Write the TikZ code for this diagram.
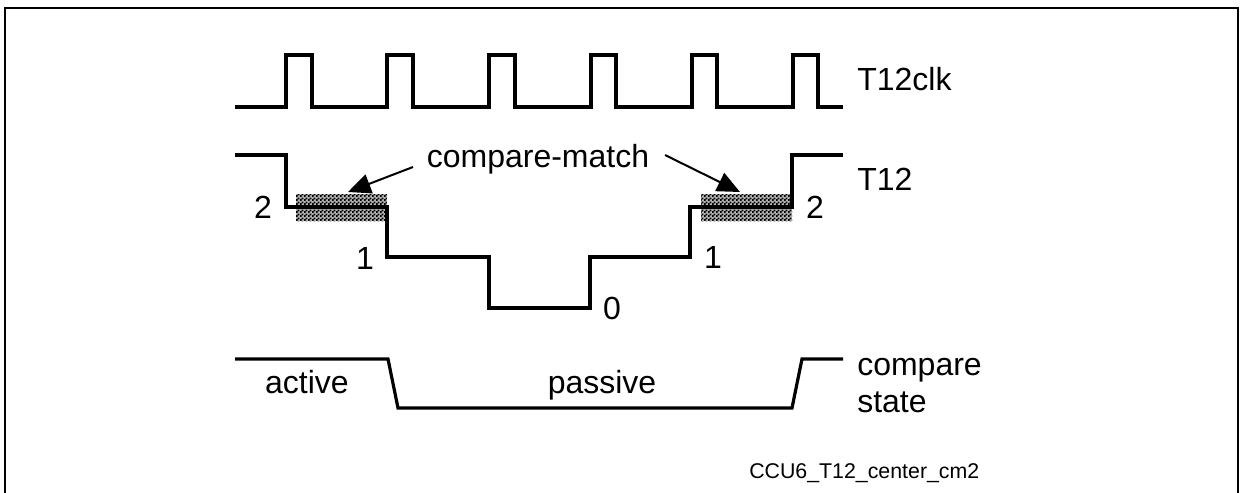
\documentclass[tikz,border=0pt]{standalone}
\usepackage{fontspec}
\setmainfont{Liberation Sans}
\usetikzlibrary{arrows.meta,patterns}
\pgfdeclarepatternformonly{checker}{\pgfqpoint{0pt}{0pt}}{\pgfqpoint{3pt}{3pt}}{\pgfqpoint{3pt}{3pt}}{%
  \pgfpathrectangle{\pgfqpoint{0pt}{0pt}}{\pgfqpoint{1.6pt}{1.6pt}}%
  \pgfpathrectangle{\pgfqpoint{1.5pt}{1.5pt}}{\pgfqpoint{1.6pt}{1.6pt}}%
  \pgfusepath{fill}}
\begin{document}
\begin{tikzpicture}[x=0.75pt,y=-0.75pt,
  wave/.style={line width=2.4pt, line join=miter},
  frameline/.style={line width=1.5pt},
  lbl/.style={font=\fontsize{24}{28}\selectfont, inner sep=0pt},
  small/.style={font=\fontsize{16}{19}\selectfont, inner sep=0pt},
  hatchbg/.style={fill=black!30},
  hatch/.style={pattern=checker, pattern color=black},
  ptr/.style={line width=1.5pt, -{Triangle[length=17pt,width=15pt]}}]
\useasboundingbox (0,0) rectangle (1240,493);
\fill[white] (0,0) rectangle (1240,493);
% frame
\draw[frameline] (5,500) -- (5,8) -- (1238,8) -- (1238,500);
% T12clk
\draw[wave] (235,107) -- (286,107) -- (286,55) -- (312,55) -- (312,107)
  -- (387,107) -- (387,55) -- (413,55) -- (413,107)
  -- (489,107) -- (489,55) -- (515,55) -- (515,107)
  -- (591,107) -- (591,55) -- (616,55) -- (616,107)
  -- (692,107) -- (692,55) -- (717,55) -- (717,107)
  -- (793,107) -- (793,55) -- (818,55) -- (818,107) -- (843,107);
\node[lbl, anchor=base west] (clk) at (857,90) {T12clk};
% hatch areas
\path[hatchbg] (296,194) rectangle (387,221);
\path[hatchbg] (701,194) rectangle (792,221);
\path[hatch] (296,194) rectangle (387,221);
\path[hatch] (701,194) rectangle (792,221);
% T12
\draw[wave] (235,155) -- (286,155) -- (286,207) -- (387,207) -- (387,257)
  -- (489,257) -- (489,308) -- (590,308) -- (590,257) -- (690,257)
  -- (690,207) -- (792,207) -- (792,155) -- (843,155);
\node[lbl, anchor=base west] (t12) at (857,190) {T12};
\node[lbl] (l2) at (263,207) {2};
\node[lbl] (l1) at (365,258) {1};
\node[lbl] (l0) at (612,308) {0};
\node[lbl] (r1) at (713,257) {1};
\node[lbl] (r2) at (815,207) {2};
% compare-match
\node[lbl, anchor=base] (cm) at (538,167) {compare-match};
\coordinate (cmL) at (413,167);
\coordinate (cmR) at (665,155);
\coordinate (tipL) at (348,192);
\coordinate (tipR) at (740,192);
\draw[ptr] (cmL) -- (tipL);
\draw[ptr] (cmR) -- (tipR);
% compare state
\draw[wave] (235,359) -- (388,359) -- (398,408) -- (792,408) -- (802,359) -- (843,359);
\node[lbl, anchor=base] (act) at (307,393) {active};
\node[lbl, anchor=base] (pas) at (602,393) {passive};
\node[lbl, anchor=base west] (cs1) at (857,375) {compare};
\node[lbl, anchor=base west] (cs2) at (857,412) {state};
% footer
\node[small, anchor=base west] (foot) at (749,478) {CCU6\_T12\_center\_cm2};
\end{tikzpicture}
\end{document}
